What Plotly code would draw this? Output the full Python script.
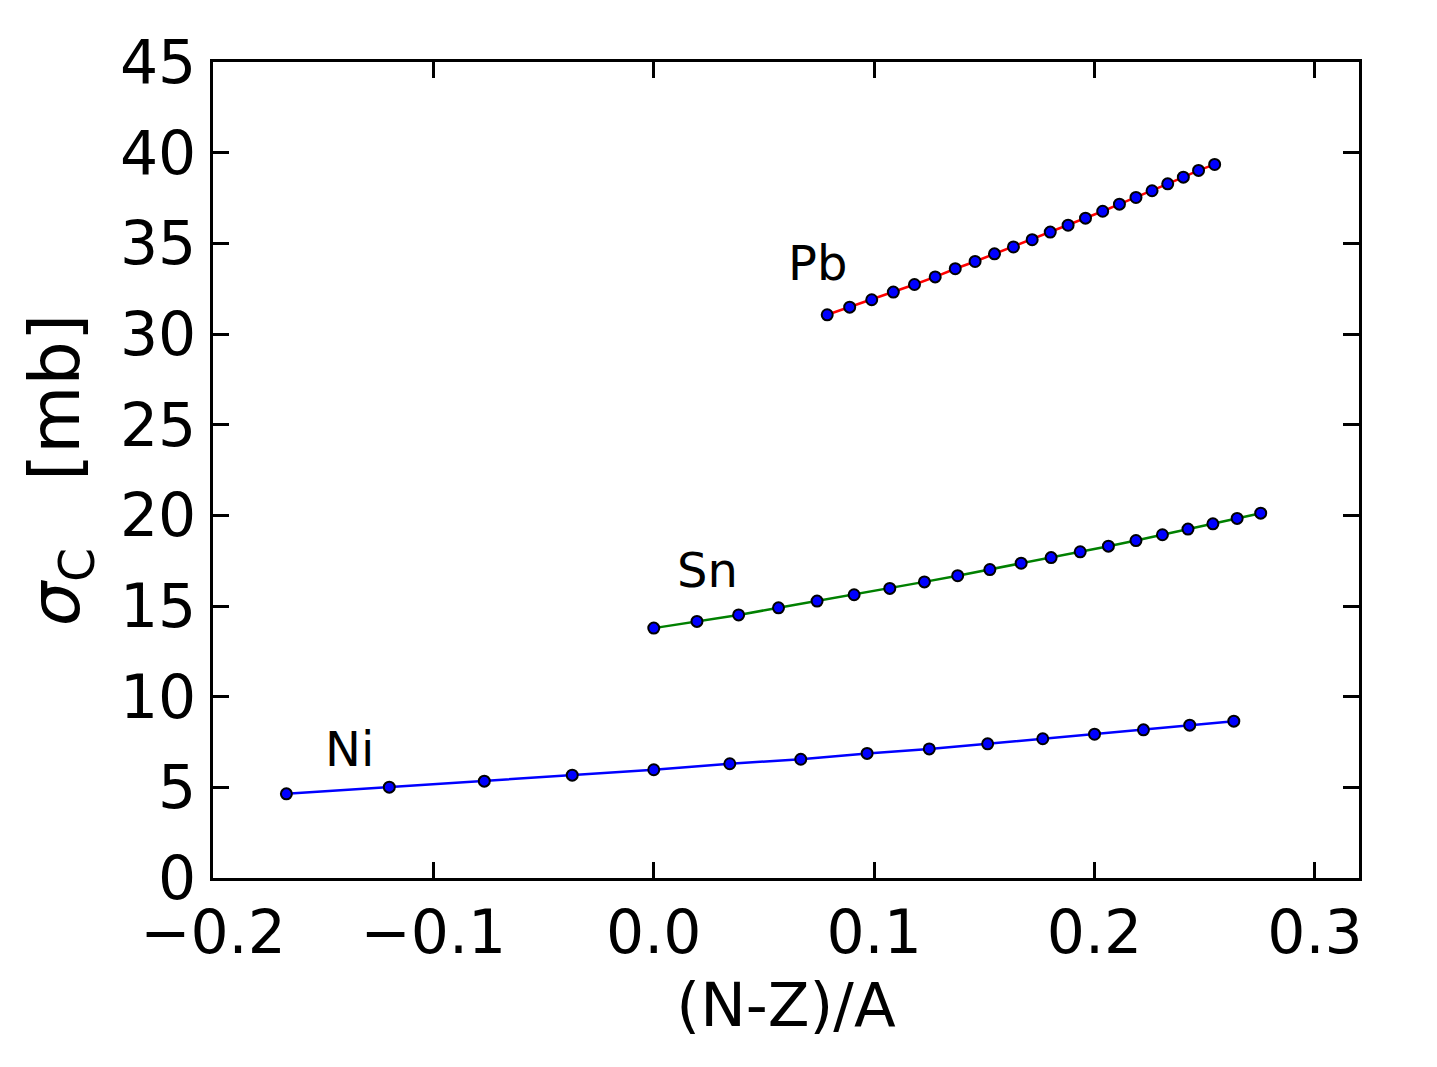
import plotly.graph_objects as go

# (N-Z)/A values
ni_x = [-0.1667, -0.1200, -0.0769, -0.0370, 0.0000, 0.0345, 0.0667, 0.0968,
        0.1250, 0.1515, 0.1765, 0.2000, 0.2222, 0.2432, 0.2632]
ni_y = [4.64, 5.01, 5.34, 5.67, 5.97, 6.30, 6.55, 6.87, 7.12, 7.40, 7.68,
        7.93, 8.17, 8.43, 8.65]

sn_x = [0.0000, 0.0196, 0.0385, 0.0566, 0.0741, 0.0909, 0.1071, 0.1228,
        0.1379, 0.1525, 0.1667, 0.1803, 0.1935, 0.2063, 0.2188, 0.2308,
        0.2424, 0.2537, 0.2647, 0.2754]
sn_y = [13.78, 14.15, 14.51, 14.90, 15.27, 15.62, 15.97, 16.33, 16.67, 17.01,
        17.36, 17.67, 17.99, 18.30, 18.61, 18.93, 19.24, 19.53, 19.83, 20.12]

pb_x = [0.0787, 0.0889, 0.0989, 0.1087, 0.1183, 0.1277, 0.1368, 0.1458,
        0.1546, 0.1632, 0.1717, 0.1799, 0.1880, 0.1959, 0.2037, 0.2113,
        0.2188, 0.2261, 0.2332, 0.2403, 0.2472, 0.2545]
pb_y = [31.06, 31.48, 31.89, 32.31, 32.73, 33.15, 33.60, 34.00, 34.42, 34.80,
        35.20, 35.62, 36.00, 36.39, 36.77, 37.16, 37.53, 37.90, 38.28, 38.65,
        39.02, 39.35]

labels = ["Ni", "Sn", "Pb"]
label_x = [-0.138, 0.0245, 0.0745]
label_y = [7.14, 16.96, 33.94]

x_ticks = [-0.2, -0.1, 0.0, 0.1, 0.2, 0.3]
y_ticks = [0, 5, 10, 15, 20, 25, 30, 35, 40, 45]

FONT = "DejaVu Sans"
fig = go.Figure()

series = [(ni_x, ni_y, "#0000ff"), (sn_x, sn_y, "#008000"), (pb_x, pb_y, "#ff0000")]
for xs, ys, col in series:
    fig.add_trace(go.Scatter(
        x=xs, y=ys, mode="lines+markers",
        line=dict(color=col, width=2.5),
        marker=dict(color="#0000ff", size=11, line=dict(color="black", width=2)),
        showlegend=False,
    ))

for t, lx, ly in zip(labels, label_x, label_y):
    fig.add_annotation(x=lx, y=ly, text=t, showarrow=False,
                       font=dict(family=FONT, size=48, color="black"),
                       xanchor="center", yanchor="middle")

axis_common = dict(
    showline=True, linecolor="black", linewidth=2.5, mirror="ticks",
    ticks="inside", ticklen=16, tickwidth=2.5, tickcolor="black",
    showgrid=False, zeroline=False,
    tickfont=dict(family=FONT, size=60, color="black"),
)

fig.update_layout(
    width=1437, height=1067,
    margin=dict(l=213, r=78, t=62, b=189),
    plot_bgcolor="white", paper_bgcolor="white",
    xaxis=dict(range=[-0.2, 0.32], tickvals=x_ticks, tickformat=".1f",
               title=dict(text="(N-Z)/A", font=dict(family=FONT, size=61, color="black"),
                          standoff=18),
               ticklabelstandoff=0,
               **axis_common),
    yaxis=dict(range=[0, 45], tickvals=y_ticks,
               title=dict(text="<i>σ</i><sub>C</sub>   [mb]",
                          font=dict(family=FONT, size=70, color="black"),
                          standoff=18),
               ticklabelstandoff=2,
               **axis_common),
)

fig.write_html("out.html")
